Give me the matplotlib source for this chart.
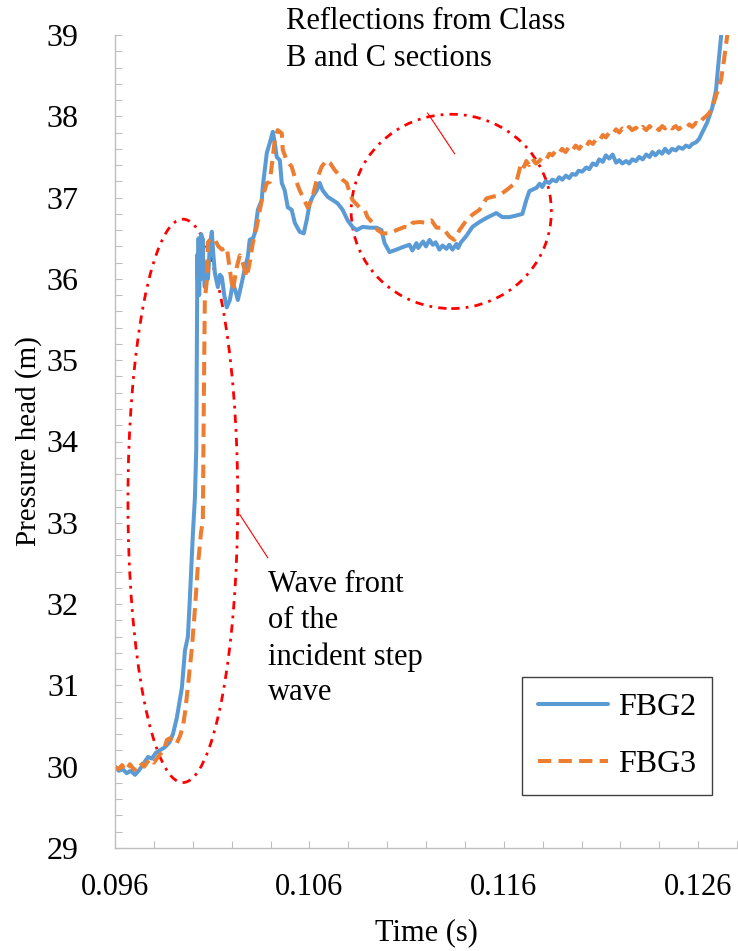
import matplotlib
matplotlib.use("Agg")
import matplotlib.pyplot as plt
from matplotlib.patches import Ellipse
from matplotlib.ticker import FixedLocator, MultipleLocator, FormatStrFormatter

# ---------------- data ----------------
time_fbg2 = [0.09600, 0.09620, 0.09640, 0.09660, 0.09680, 0.09703, 0.09725, 0.09750, 0.09770, 0.09790,
             0.09810, 0.09830, 0.09857, 0.09880, 0.09898, 0.09918, 0.09944, 0.09960, 0.09975, 0.09985,
             0.10001, 0.10011, 0.10018, 0.10021, 0.10024, 0.10027, 0.10030, 0.10033, 0.10037, 0.10040,
             0.10044, 0.10047, 0.10050, 0.10055, 0.10062, 0.10070, 0.10078, 0.10088, 0.10098, 0.10106,
             0.10114, 0.10129, 0.10140, 0.10150, 0.10162, 0.10175, 0.10191, 0.10206, 0.10220, 0.10232,
             0.10252, 0.10270, 0.10283, 0.10293, 0.10310, 0.10319, 0.10335, 0.10355, 0.10360, 0.10381,
             0.10396, 0.10412, 0.10422, 0.10432, 0.10448, 0.10458, 0.10473, 0.10489, 0.10509, 0.10525,
             0.10550, 0.10571, 0.10586, 0.10602, 0.10617, 0.10638, 0.10653, 0.10668, 0.10694, 0.10720,
             0.10745, 0.10771, 0.10797, 0.10822, 0.10843, 0.10874, 0.10910, 0.10946, 0.10971, 0.10987,
             0.11012, 0.11048, 0.11079, 0.11115, 0.11130, 0.11151, 0.11160, 0.11185, 0.11200, 0.11218,
             0.11235, 0.11250, 0.11269, 0.11285, 0.11305, 0.11320, 0.11336, 0.11357, 0.11365, 0.11380,
             0.11408, 0.11439, 0.11475, 0.11511, 0.11562, 0.11593, 0.11629, 0.11665, 0.11696, 0.11716,
             0.11732, 0.11768, 0.11785, 0.11798, 0.11815, 0.11834, 0.11850, 0.11870, 0.11885, 0.11901,
             0.11920, 0.11937, 0.11952, 0.11970, 0.11985, 0.12004, 0.12024, 0.12040, 0.12058, 0.12076,
             0.12091, 0.12110, 0.12125, 0.12143, 0.12160, 0.12178, 0.12194, 0.12210, 0.12230, 0.12245,
             0.12261, 0.12280, 0.12297, 0.12315, 0.12333, 0.12350, 0.12365, 0.12380, 0.12399, 0.12415,
             0.12430, 0.12448, 0.12466, 0.12485, 0.12500, 0.12520, 0.12538, 0.12555, 0.12570, 0.12589,
             0.12605, 0.12621, 0.12646, 0.12672, 0.12692, 0.12702, 0.12718, 0.12723]
head_fbg2 = [30.00, 29.95, 29.97, 29.92, 29.95, 29.90, 29.96, 30.05, 30.12, 30.10,
             30.17, 30.20, 30.24, 30.30, 30.40, 30.60, 30.97, 31.43, 31.60, 32.06,
             32.88, 33.30, 33.90, 35.20, 36.30, 35.90, 36.50, 35.80, 36.40, 36.00,
             36.55, 36.20, 36.50, 36.10, 35.90, 36.20, 36.00, 36.40, 36.58, 36.30,
             36.07, 35.90, 36.05, 36.02, 35.80, 35.65, 35.74, 35.95, 35.85, 35.74,
             35.95, 36.15, 36.27, 36.48, 36.50, 36.56, 36.85, 36.97, 37.13, 37.55,
             37.67, 37.81, 37.67, 37.50, 37.46, 37.18, 37.09, 36.88, 36.85, 36.69,
             36.58, 36.56, 36.72, 36.93, 37.01, 37.09, 37.18, 37.09, 37.01, 36.97,
             36.93, 36.85, 36.72, 36.64, 36.60, 36.64, 36.63, 36.63, 36.60, 36.44,
             36.33, 36.36, 36.39, 36.42, 36.35, 36.44, 36.38, 36.46, 36.40, 36.48,
             36.42, 36.45, 36.36, 36.41, 36.37, 36.42, 36.36, 36.43, 36.38, 36.45,
             36.53, 36.64, 36.70, 36.75, 36.81, 36.76, 36.76, 36.78, 36.80, 36.97,
             37.08, 37.12, 37.17, 37.13, 37.20, 37.18, 37.22, 37.20, 37.25, 37.22,
             37.27, 37.24, 37.29, 37.28, 37.33, 37.32, 37.37, 37.35, 37.42, 37.40,
             37.47, 37.44, 37.52, 37.48, 37.53, 37.43, 37.46, 37.42, 37.45, 37.42,
             37.47, 37.45, 37.50, 37.47, 37.53, 37.50, 37.56, 37.52, 37.57, 37.54,
             37.60, 37.55, 37.60, 37.58, 37.62, 37.60, 37.64, 37.62, 37.66, 37.68,
             37.72, 37.80, 37.92, 38.10, 38.32, 38.59, 38.98, 39.18]

time_fbg3 = [0.09600, 0.09618, 0.09636, 0.09655, 0.09677, 0.09700, 0.09728, 0.09750, 0.09780, 0.09800,
             0.09831, 0.09850, 0.09867, 0.09883, 0.09900, 0.09918, 0.09935, 0.09949, 0.09960, 0.09975,
             0.09996, 0.10011, 0.10026, 0.10042, 0.10052, 0.10057, 0.10062, 0.10073, 0.10078, 0.10095,
             0.10114, 0.10132, 0.10150, 0.10175, 0.10191, 0.10206, 0.10227, 0.10242, 0.10257, 0.10278,
             0.10293, 0.10309, 0.10329, 0.10355, 0.10381, 0.10396, 0.10406, 0.10422, 0.10437, 0.10458,
             0.10463, 0.10483, 0.10509, 0.10525, 0.10550, 0.10566, 0.10591, 0.10612, 0.10638, 0.10663,
             0.10689, 0.10705, 0.10730, 0.10745, 0.10771, 0.10792, 0.10807, 0.10822, 0.10858, 0.10884,
             0.10899, 0.10925, 0.10951, 0.10977, 0.11012, 0.11048, 0.11090, 0.11115, 0.11131, 0.11167,
             0.11203, 0.11228, 0.11254, 0.11285, 0.11321, 0.11346, 0.11372, 0.11408, 0.11439, 0.11475,
             0.11511, 0.11542, 0.11578, 0.11613, 0.11644, 0.11665, 0.11690, 0.11705, 0.11716, 0.11730,
             0.11747, 0.11765, 0.11783, 0.11800, 0.11819, 0.11835, 0.11850, 0.11868, 0.11886, 0.11900,
             0.11918, 0.11935, 0.11952, 0.11970, 0.11988, 0.12006, 0.12024, 0.12040, 0.12058, 0.12076,
             0.12091, 0.12110, 0.12125, 0.12143, 0.12160, 0.12178, 0.12194, 0.12210, 0.12230, 0.12245,
             0.12261, 0.12280, 0.12297, 0.12315, 0.12333, 0.12350, 0.12365, 0.12380, 0.12399, 0.12415,
             0.12430, 0.12448, 0.12466, 0.12485, 0.12500, 0.12520, 0.12538, 0.12555, 0.12570, 0.12589,
             0.12605, 0.12625, 0.12641, 0.12657, 0.12672, 0.12685, 0.12697, 0.12718, 0.12733, 0.12749,
             0.12760]
head_fbg3 = [30.00, 29.97, 30.02, 29.95, 30.03, 29.96, 30.05, 30.00, 30.10, 30.05,
             30.15, 30.20, 30.33, 30.35, 30.28, 30.29, 30.38, 30.49, 30.66, 30.98,
             31.47, 31.93, 32.46, 32.87, 33.03, 34.51, 35.74, 35.99, 36.45, 36.50,
             36.48, 36.40, 36.36, 36.39, 36.11, 35.86, 36.15, 36.29, 36.20, 36.02,
             36.20, 36.44, 36.64, 36.97, 37.18, 37.19, 37.38, 37.71, 37.83, 37.79,
             37.59, 37.46, 37.38, 37.25, 37.09, 37.01, 36.88, 36.97, 37.22, 37.38,
             37.46, 37.43, 37.34, 37.30, 37.22, 37.18, 37.06, 36.97, 36.88, 36.85,
             36.76, 36.69, 36.60, 36.56, 36.56, 36.60, 36.64, 36.63, 36.69, 36.70,
             36.69, 36.72, 36.63, 36.63, 36.52, 36.48, 36.60, 36.72, 36.79, 36.85,
             36.99, 37.01, 37.03, 37.09, 37.15, 37.19, 37.43, 37.38, 37.45, 37.40,
             37.48, 37.42, 37.45, 37.50, 37.47, 37.54, 37.52, 37.58, 37.55, 37.60,
             37.56, 37.62, 37.58, 37.64, 37.60, 37.66, 37.63, 37.69, 37.66, 37.72,
             37.70, 37.77, 37.74, 37.80, 37.78, 37.84, 37.80, 37.85, 37.82, 37.87,
             37.83, 37.86, 37.82, 37.87, 37.83, 37.88, 37.84, 37.87, 37.83, 37.88,
             37.85, 37.89, 37.85, 37.88, 37.84, 37.88, 37.86, 37.90, 37.87, 37.92,
             37.90, 37.97, 38.00, 38.04, 38.10, 38.20, 38.29, 38.45, 38.69, 38.98,
             39.18]

series_labels = ["FBG2", "FBG3"]
x_ticks = [0.096, 0.106, 0.116, 0.126]
y_ticks = [29, 30, 31, 32, 33, 34, 35, 36, 37, 38, 39]

# ---------------- figure ----------------
W, H = 738, 951
plt.rcParams['font.family'] = ['Liberation Serif', 'DejaVu Serif']
fig = plt.figure(figsize=(W / 100, H / 100), dpi=100)
ax = fig.add_axes([115 / W, 103 / H, 622 / W, 813 / H])

blue = '#5B9BD5'
orange = '#ED7D31'
ax.plot(time_fbg2, head_fbg2, color=blue, lw=2.9, label=series_labels[0],
        solid_joinstyle='round', solid_capstyle='round')
ax.plot(time_fbg3, head_fbg3, color=orange, lw=2.9, linestyle=(0, (3.3, 1.8)),
        label=series_labels[1], dash_capstyle='butt')

ax.set_xlim(0.096, 0.128)
ax.set_ylim(29, 39)

ax.xaxis.set_major_locator(FixedLocator(x_ticks))
ax.xaxis.set_minor_locator(MultipleLocator(0.002))
ax.xaxis.set_major_formatter(FormatStrFormatter('%.3f'))
ax.yaxis.set_major_locator(FixedLocator(y_ticks))
ax.yaxis.set_minor_locator(MultipleLocator(0.2))

spine_c = '#BFBFBF'
for s in ['top', 'right']:
    ax.spines[s].set_visible(False)
for s in ['left', 'bottom']:
    ax.spines[s].set_color(spine_c)
    ax.spines[s].set_linewidth(1.0)

ax.tick_params(axis='both', which='both', direction='in', color=spine_c, width=0.8, length=5)
ax.tick_params(axis='x', which='major', labelsize=22, pad=18)
ax.tick_params(axis='y', which='major', labelsize=23, pad=26)

ax.set_xlabel('Time (s)', fontsize=22, labelpad=12)
ax.set_ylabel('Pressure head (m)', fontsize=21, labelpad=3.5)

# annotation ellipses
ax.add_patch(Ellipse((0.09949, 33.27), 0.00565, 6.93, fill=False, edgecolor='#FF0000',
                     lw=2.0, linestyle=(0, (3, 2.2, 1, 2.2)), clip_on=False))
ax.add_patch(Ellipse((0.11330, 36.83), 0.01030, 2.39, fill=False, edgecolor='#FF0000',
                     lw=2.0, linestyle=(0, (3, 2.2, 1, 2.2)), clip_on=False))

# leader lines
ax.plot([0.11208, 0.11347], [38.04, 37.54], color='#FF0000', lw=0.8, clip_on=False)
ax.plot([0.10242, 0.10386], [33.10, 32.57], color='#FF0000', lw=0.8, clip_on=False)

# annotation texts (pixel positions -> figure fraction)
def ftext(px, py, s):
    fig.text(px / W, 1 - py / H, s, fontsize=22, ha='left', va='baseline')

ftext(286, 29, 'Reflections from Class')
ftext(286, 66, 'B and C sections')
ftext(268, 592, 'Wave front')
ftext(268, 628, 'of the')
ftext(268, 665, 'incident step')
ftext(268, 700, 'wave')

leg = ax.legend(loc='upper left', bbox_to_anchor=(522 / W, 1 - 677 / H),
                bbox_transform=fig.transFigure, borderaxespad=0, fontsize=23,
                fancybox=False, framealpha=1, edgecolor='#404040',
                handlelength=2.2, handletextpad=0.3, borderpad=0.5, labelspacing=0.85)
leg.get_frame().set_linewidth(1.0)

fig.savefig('out.png', dpi=100)
